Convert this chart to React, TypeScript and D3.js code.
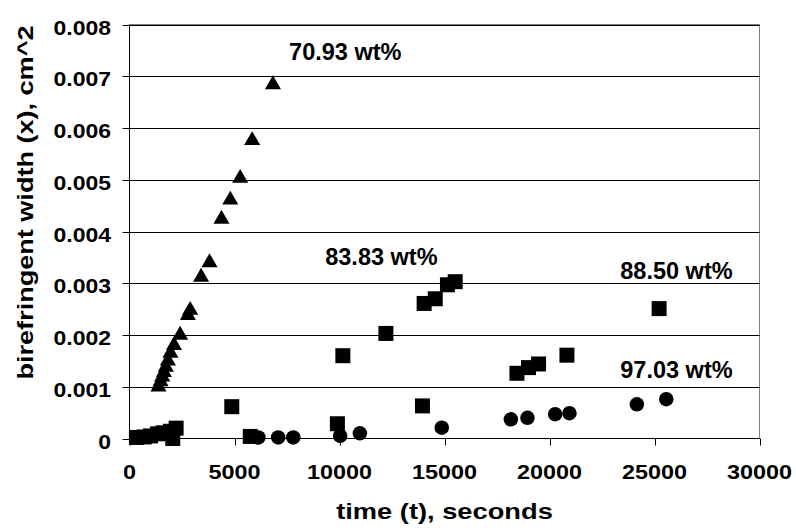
import React, { useEffect } from "react";
import * as d3 from "d3";

// 70.93 wt% (triangles)
const tri7093 = [
  [1380, 0.00100], [1480, 0.00110], [1560, 0.00119], [1640, 0.00128],
  [1730, 0.00138], [1830, 0.00150], [1950, 0.00165], [2120, 0.00180],
  [2410, 0.00200], [2780, 0.00238], [2890, 0.00248], [3410, 0.00312],
  [3810, 0.00340], [4380, 0.00424], [4800, 0.00461], [5270, 0.00503],
  [5840, 0.00576], [6830, 0.00684],
];

// 83.83 wt% (squares)
const sq8383 = [
  [330, 0.00002], [700, 0.00003], [1000, 0.00005], [1340, 0.00009],
  [1600, 0.00011], [1950, 0.00014], [2060, 0.0], [2220, 0.00020],
  [4870, 0.000615], [10160, 0.00160], [12210, 0.00203], [14030, 0.00261],
  [14560, 0.00270], [15140, 0.00297], [15510, 0.00303],
];

// 88.50 wt% (squares)
const sq8850 = [
  [5750, 0.00004], [9900, 0.000285], [13950, 0.00063], [18450, 0.00126],
  [19000, 0.00137], [19480, 0.00144], [20830, 0.00161], [25220, 0.00251],
];

// 97.03 wt% (circles)
const circ9703 = [
  [6140, 0.00002], [7080, 0.00002], [7800, 0.00002], [10030, 0.00005],
  [10970, 0.0001], [14870, 0.00021], [18160, 0.00037], [18950, 0.00040],
  [20270, 0.00047], [20950, 0.00049], [24160, 0.00066], [25560, 0.00076],
];

const seriesLabels = ["70.93 wt%", "83.83 wt%", "88.50 wt%", "97.03 wt%"];
// label anchor (left, baseline) in data units
const labelPos = [
  [7600, 0.00731], [9320, 0.00335], [23370, 0.00308], [23370, 0.00117],
];

const xTicks = [0, 5000, 10000, 15000, 20000, 25000, 30000];
const yTicks = [0, 0.001, 0.002, 0.003, 0.004, 0.005, 0.006, 0.007, 0.008];

const W = 796;
const H = 528;
const left = 129.5;
const right = 759.5;
const top = 24.5;
const bottom = 438.5;
const font = "'Liberation Sans', Arial, sans-serif";

export default function App() {
  useEffect(() => {
    document.body.style.margin = "0";
  }, []);

  const x = d3.scaleLinear().domain([0, 30000]).range([left, right]);
  const y = d3.scaleLinear().domain([0, 0.008]).range([bottom, top]);

  const square = d3.symbol().type(d3.symbolSquare).size(225)();
  const triangle = d3.symbol().type(d3.symbolTriangle).size(112)();
  const circle = d3.symbol().type(d3.symbolCircle).size(165)();

  const marks = [
    { data: tri7093, path: triangle },
    { data: sq8383, path: square },
    { data: sq8850, path: square },
    { data: circ9703, path: circle },
  ];

  return (
    <svg width={W} height={H} style={{ display: "block", background: "#fff" }} fontFamily={font} fontWeight="bold">
      <rect x={left} y={top} width={right - left} height={bottom - top} fill="none" stroke="#808080" />
      {/* gridlines */}
      {yTicks.filter((t) => t > 0).map((t) => (
        <line key={t} x1={left} x2={right} y1={Math.round(y(t)) + 0.5} y2={Math.round(y(t)) + 0.5} stroke="#000" />
      ))}
      {/* axes */}
      <line x1={left} x2={left} y1={top} y2={bottom} stroke="#000" />
      <line x1={left} x2={right} y1={bottom} y2={bottom} stroke="#000" />
      {yTicks.map((t) => (
        <g key={t}>
          <line x1={left - 7} x2={left} y1={Math.round(y(t)) + 0.5} y2={Math.round(y(t)) + 0.5} stroke="#000" />
          <text
            transform={`translate(111,${y(t) + 10}) scale(1.15,1)`}
            textAnchor="end"
            fontSize={20}
          >
            {t === 0 ? "0" : t.toFixed(3)}
          </text>
        </g>
      ))}
      {xTicks.map((t) => (
        <g key={t}>
          <line x1={Math.round(x(t)) + 0.5} x2={Math.round(x(t)) + 0.5} y1={bottom} y2={bottom + 7} stroke="#000" />
          <text
            transform={`translate(${x(t)},479) scale(1.17,1)`}
            textAnchor="middle"
            fontSize={20}
          >
            {t}
          </text>
        </g>
      ))}
      <text transform={`translate(${(left + right) / 2},519) scale(1.24,1)`} textAnchor="middle" fontSize={22}>
        time (t), seconds
      </text>
      <text transform="translate(33,202.5) rotate(-90) scale(1.23,1)" textAnchor="middle" fontSize={22}>
        birefringent width (x), cm^2
      </text>
      {/* markers */}
      {marks.map((m, i) => (
        <g key={i}>
          {m.data.map((d, j) => (
            <path key={j} d={m.path || ""} transform={`translate(${x(d[0])},${y(d[1])})`} fill="#000" />
          ))}
        </g>
      ))}
      {seriesLabels.map((s, i) => (
        <text key={s} x={x(labelPos[i][0])} y={y(labelPos[i][1])} fontSize={23.5}>
          {s}
        </text>
      ))}
    </svg>
  );
}
